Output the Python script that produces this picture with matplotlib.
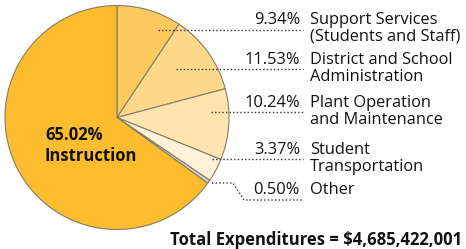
import matplotlib
matplotlib.use("Agg")
import matplotlib.pyplot as plt

categories = ["Support Services\n(Students and Staff)", "District and School\nAdministration",
              "Plant Operation\nand Maintenance", "Student\nTransportation", "Other", "Instruction"]
values = [9.34, 11.53, 10.24, 3.37, 0.50, 65.02]
pct_labels = ["9.34%", "11.53%", "10.24%", "3.37%", "0.50%", "65.02%"]
colors = ["#FECA5E", "#FFD98B", "#FFE4B0", "#FFF2D9", "#D9D4C8", "#FDBD2E"]
total_label = "Total Expenditures = $4,685,422,001"

W, H = 466, 249
fig = plt.figure(figsize=(W / 100, H / 100), dpi=100)
ax = fig.add_axes([0, 0, 1, 1])

def Y(y):
    return H - y

cx, cy, r = 117, 117.5, 112
ax.pie(values, colors=colors, startangle=90, counterclock=False,
       center=(cx, Y(cy)), radius=r, frame=True,
       wedgeprops=dict(edgecolor="#857c68", linewidth=0.8))
ax.set_xlim(0, W)
ax.set_ylim(0, H)
ax.set_aspect("equal")
ax.axis("off")

font = "Open Sans"
fs = 11.8
pct_x = 300
lab_x = 310
text_y = [20, 60, 103, 150, 190]
line_y = [30, 69, 112, 159, 200]
line_x0 = [158, 176, 211, 212, 212]
dot = dict(color="#333333", lw=1.0, linestyle=(0, (1, 1.6)))

for i in range(5):
    ax.text(pct_x, Y(text_y[i]), pct_labels[i], ha="right", va="center",
            fontsize=fs, family=font, color="#111111")
    lines = categories[i].split("\n")
    for j, ln in enumerate(lines):
        ax.text(lab_x, Y(text_y[i] + 16.5 * j), ln, ha="left", va="center",
                fontsize=fs, family=font, color="#111111")
    if i < 4:
        ax.plot([line_x0[i], 303], [Y(line_y[i]), Y(line_y[i])], **dot)
    else:
        ax.plot([line_x0[i], 233, 244, 303],
                [Y(183), Y(183), Y(line_y[i]), Y(line_y[i])], **dot)

ax.text(45, Y(135), pct_labels[5], ha="left", va="center", fontsize=12,
        family=font, fontweight="bold", color="#111111")
ax.text(45, Y(156), categories[5], ha="left", va="center", fontsize=12,
        family=font, fontweight="bold", color="#111111")

ax.text(462, Y(240), total_label, ha="right", va="center", fontsize=12,
        family=font, fontweight="bold", color="#111111")

fig.savefig("out.png", dpi=100)
